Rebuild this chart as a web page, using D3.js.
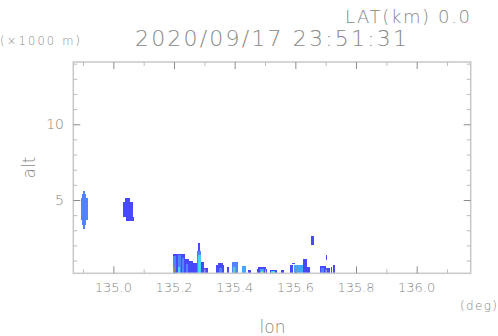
<!DOCTYPE html>
<html><head><meta charset="utf-8">
<script src="https://cdn.jsdelivr.net/npm/d3@7"></script>
<style>body{margin:0;background:#fff}svg{display:block}text{font-family:"DejaVu Sans",sans-serif;font-weight:200;fill:#888888}</style>
</head><body><svg id="c" width="498" height="336"></svg>
<script>
// ---- data ----
const titleText = "2020/09/17 23:51:31";
const latText = "LAT(km) 0.0";
const lonDomain = [134.868, 136.178];
const altDomain = [0.16, 14.11];
const lonMajorTicks = [135.0, 135.2, 135.4, 135.6, 135.8, 136.0];
const lonTickLabels = ["135.0", "135.2", "135.4", "135.6", "135.8", "136.0"];
const lonMinorTicks = [134.9, 135.1, 135.3, 135.5, 135.7, 135.9, 136.1];
const altMajorTicks = [5, 10];
const altMinorTicks = [1, 2, 3, 4, 6, 7, 8, 9, 11, 12, 13, 14];
// echo cells: lon from/to, alt from/to (km), intensity level
const cellLon0 = [134.900,134.897,134.893,134.897,134.900, 135.039,135.031,135.042,
  135.196,135.197,135.212,135.226,135.198,135.214, 135.236,135.240, 135.250,135.262,
  135.278,135.276,135.280,135.282, 135.290,135.300, 135.338,135.344,135.348, 135.375,
  135.390,135.394,135.398, 135.423, 135.443, 135.473,135.478,135.482,135.486,135.488,
  135.516,135.520,135.524, 135.552, 135.582,135.590,135.596,135.625,135.626,135.640,
  135.651,135.700,135.681,135.684,135.701,135.718,135.725];
const cellLon1 = [134.907,134.911,134.915,134.911,134.907, 135.055,135.064,135.068,
  135.236,135.205,135.222,135.232,135.204,135.220, 135.250,135.246, 135.262,135.276,
  135.286,135.290,135.288,135.287, 135.300,135.311, 135.366,135.360,135.358, 135.382,
  135.411,135.404,135.402, 135.437, 135.453, 135.507,135.502,135.498,135.494,135.492,
  135.538,135.534,135.530, 135.5625, 135.593,135.598,135.625,135.648,135.637,135.648,
  135.661,135.703,135.701,135.696,135.714,135.722,135.731];
const cellAlt0 = [5.40,5.11,3.68,3.35,3.10, 4.85,3.90,3.63,
  0.16,0.16,0.16,0.16,0.20,0.20, 0.16,0.16, 0.16,0.16,
  1.63,0.16,0.20,0.30, 0.16,0.16, 0.16,0.16,0.16, 0.16,
  0.16,0.16,0.16, 0.16, 0.16, 0.16,0.16,0.16,0.16,0.16,
  0.16,0.16,0.16, 0.16, 0.16,0.78,0.16,0.16,0.16,0.16,
  2.05,1.05,0.16,0.16,0.16,0.16,0.16];
const cellAlt1 = [5.59,5.40,5.11,3.68,3.35, 5.15,4.85,3.90,
  1.41,1.30,1.35,1.20,0.60,0.55, 1.08,0.80, 0.95,0.86,
  2.14,1.63,1.40,0.90, 0.90,0.50, 0.70,0.82,0.50, 0.55,
  0.91,0.60,0.35, 0.64, 0.40, 0.45,0.56,0.45,0.32,0.25,
  0.38,0.30,0.24, 0.38, 0.69,0.86,0.69,0.60,1.10,0.55,
  2.60,1.34,0.66,0.50,0.51,0.60,0.68];
const cellLevel = [2,2,2,2,2, 1,1,1,
  1,2,2,2,3,4, 1,2, 1,1,
  1,2,4,5, 1,1, 1,1,2, 1,
  2,4,5, 3, 1, 1,1,3,5,6,
  1,4,5, 1, 1,1,3,2,1,1,
  1,1,1,2,1,1,1];
const levelColors = ["#ffffff","#4848ff","#5282ff","#42a8ff","#40d8f0","#50eea0","#b0f050"];

// ---- drawing ----
const svg = d3.select("#c");
const L = 73.3, R = 470.7, T = 62, B = 273.3;
const x = d3.scaleLinear().domain(lonDomain).range([L, R]);
const y = d3.scaleLinear().domain(altDomain).range([B, T]);
const color = d3.scaleOrdinal().domain(d3.range(levelColors.length)).range(levelColors);

const cells = cellLon0.map((d, i) => ({l0: d, l1: cellLon1[i], a0: cellAlt0[i], a1: cellAlt1[i], v: cellLevel[i]}));
svg.append("g").selectAll("rect").data(cells).join("rect")
  .attr("x", d => x(d.l0)).attr("width", d => x(d.l1) - x(d.l0))
  .attr("y", d => y(d.a1)).attr("height", d => y(d.a0) - y(d.a1))
  .attr("fill", d => color(d.v)).attr("shape-rendering", "crispEdges");

// frame
svg.append("rect").attr("x", L).attr("y", T).attr("width", R - L).attr("height", B - T)
  .attr("fill", "none").attr("stroke", "#cbcbcb").attr("stroke-width", 1.6);

// ticks (inward, all four sides)
const axB = d3.axisTop(x).tickValues(lonMajorTicks).tickSize(7).tickFormat("");
const axBm = d3.axisTop(x).tickValues(lonMinorTicks).tickSize(4).tickFormat("");
const axT = d3.axisBottom(x).tickValues(lonMajorTicks).tickSize(7).tickFormat("");
const axTm = d3.axisBottom(x).tickValues(lonMinorTicks).tickSize(4).tickFormat("");
const axL = d3.axisRight(y).tickValues(altMajorTicks).tickSize(7).tickFormat("");
const axLm = d3.axisRight(y).tickValues(altMinorTicks).tickSize(4).tickFormat("");
const axR = d3.axisLeft(y).tickValues(altMajorTicks).tickSize(7).tickFormat("");
const axRm = d3.axisLeft(y).tickValues(altMinorTicks).tickSize(4).tickFormat("");
function put(ax, tx, ty, col) {
  const g = svg.append("g").attr("transform", `translate(${tx},${ty})`).call(ax);
  g.select(".domain").remove();
  g.selectAll("line").attr("stroke", col).attr("stroke-width", 1);
}
put(axB, 0, B, "#8c8c8c"); put(axBm, 0, B, "#bdbdbd");
put(axT, 0, T, "#8c8c8c"); put(axTm, 0, T, "#bdbdbd");
put(axL, L, 0, "#8c8c8c"); put(axLm, L, 0, "#bdbdbd");
put(axR, R, 0, "#8c8c8c"); put(axRm, R, 0, "#bdbdbd");

// tick labels
svg.append("g").selectAll("text").data(lonMajorTicks).join("text")
  .attr("x", d => x(d)).attr("y", 292).attr("text-anchor", "middle")
  .attr("font-size", 13).text((d, i) => lonTickLabels[i]);
svg.append("g").selectAll("text").data(altMajorTicks).join("text")
  .attr("x", 64).attr("y", d => y(d) + 5).attr("text-anchor", "end")
  .attr("font-size", 14).text(d => d);

// titles
svg.append("text").attr("x", 271).attr("y", 46).attr("text-anchor", "middle")
  .attr("font-size", 22).attr("textLength", 272).text(titleText);
svg.append("text").attr("x", 470).attr("y", 23).attr("text-anchor", "end")
  .attr("font-size", 18).attr("textLength", 125).text(latText);
svg.append("text").attr("x", 0).attr("y", 45).attr("font-size", 11.5)
  .attr("textLength", 80).text("(×1000 m)");
svg.append("text").attr("x", 497).attr("y", 310).attr("text-anchor", "end")
  .attr("font-size", 12).attr("textLength", 37).text("(deg)");
svg.append("text").attr("x", 272.5).attr("y", 333).attr("text-anchor", "middle")
  .attr("font-size", 17).text("lon");
svg.append("text").attr("transform", "translate(35,167.5) rotate(-90)")
  .attr("text-anchor", "middle").attr("font-size", 17).text("alt");
</script></body></html>
